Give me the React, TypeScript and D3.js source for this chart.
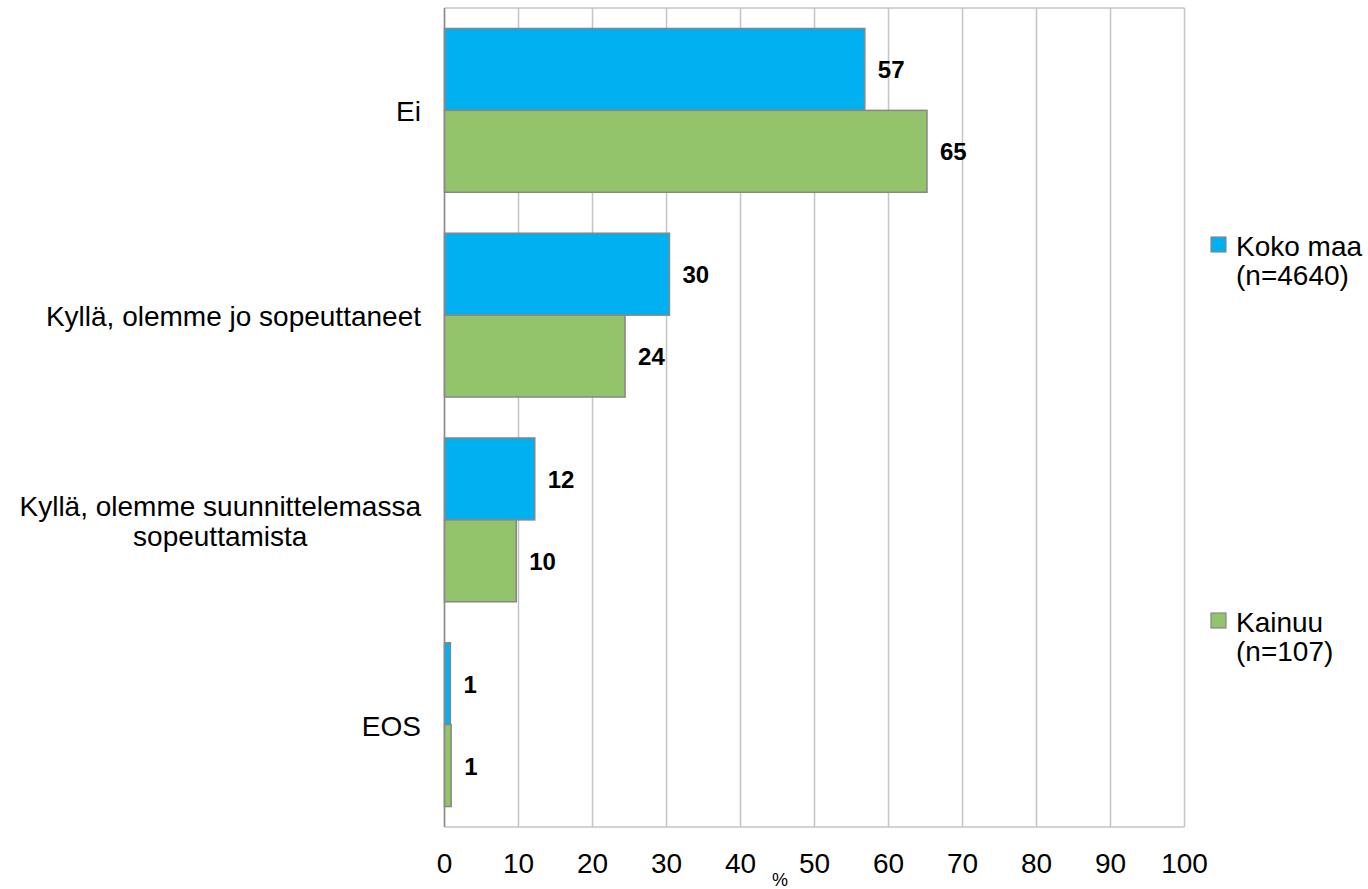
import { useMemo } from "react";
import * as d3 from "d3";

const CATEGORIES = [
  "Ei",
  "Kyllä, olemme jo sopeuttaneet",
  "Kyllä, olemme suunnittelemassa\nsopeuttamista",
  "EOS",
];

const SERIES_NAMES = ["Koko maa", "Kainuu"];
const SERIES_N = ["(n=4640)", "(n=107)"];
const KOKO_MAA = [56.8, 30.4, 12.2, 0.8];
const KAINUU = [65.2, 24.4, 9.7, 0.9];
const X_TICKS = [0, 10, 20, 30, 40, 50, 60, 70, 80, 90, 100];

const COLORS = ["#00b0f0", "#93c36a"];
const FONT = "'Liberation Sans', Arial, sans-serif";

const W = 1368;
const H = 889;
const M = { left: 444.5, right: 1184.5, top: 8, bottom: 827 };

function measure(text: string, font: string) {
  const c = document.createElement("canvas").getContext("2d");
  if (!c) return text.length * 14;
  c.font = font;
  return c.measureText(text).width;
}

export default function App() {
  const values = [KOKO_MAA, KAINUU];

  const x = d3.scaleLinear().domain([0, 100]).range([M.left, M.right]);
  const y = d3
    .scaleBand<number>()
    .domain(CATEGORIES.map((_, i) => i))
    .range([M.top, M.bottom])
    .paddingInner(0.2)
    .paddingOuter(0.1);
  const inner = d3
    .scaleBand<number>()
    .domain(SERIES_NAMES.map((_, i) => i))
    .range([0, y.bandwidth()]);

  const labelWidths = useMemo(
    () =>
      CATEGORIES.map((c) =>
        Math.max(...c.split("\n").map((l) => measure(l, `28px ${FONT}`)))
      ),
    []
  );

  const labelRight = 421;
  const lineH = 30;
  const fmt = d3.format(".0f");

  return (
    <svg
      width={W}
      height={H}
      style={{ position: "absolute", left: 0, top: 0, background: "#fff" }}
      fontFamily={FONT}
    >
      {/* vertical grid */}
      {X_TICKS.map((t) => (
        <line
          key={t}
          x1={x(t)}
          x2={x(t)}
          y1={M.top}
          y2={M.bottom}
          stroke="#c4c4c4"
          strokeWidth={1.5}
        />
      ))}
      <line x1={M.left} x2={M.right} y1={M.top} y2={M.top} stroke="#c4c4c4" strokeWidth={1.5} />
      <line x1={M.left} x2={M.right} y1={M.bottom} y2={M.bottom} stroke="#c4c4c4" strokeWidth={1.5} />

      {/* bars */}
      {values.map((vals, s) =>
        vals.map((v, i) => {
          const by = (y(i) ?? 0) + (inner(s) ?? 0);
          const bh = inner.bandwidth();
          return (
            <g key={`${s}-${i}`}>
              <rect
                x={x(0)}
                y={by}
                width={x(v) - x(0)}
                height={bh}
                fill={COLORS[s]}
                stroke="#878787"
                strokeWidth={1.5}
              />
              <text
                x={x(v) + 13}
                y={by + bh / 2 + 9}
                fontSize={24}
                fontWeight="bold"
                fill="#000"
              >
                {fmt(v)}
              </text>
            </g>
          );
        })
      )}

      <line x1={M.left} x2={M.left} y1={M.top} y2={M.bottom} stroke="#8a8a8a" strokeWidth={1.5} />

      {/* category labels */}
      {CATEGORIES.map((c, i) => {
        const lines = c.split("\n");
        const cy = (y(i) ?? 0) + y.bandwidth() / 2;
        const cx = labelRight - labelWidths[i] / 2;
        return (
          <text key={c} fontSize={28} fill="#000" textAnchor="middle">
            {lines.map((l, k) => (
              <tspan key={k} x={cx} y={cy + 11 + (k - (lines.length - 1) / 2) * lineH}>
                {l}
              </tspan>
            ))}
          </text>
        );
      })}

      {/* x ticks */}
      {X_TICKS.map((t) => (
        <text key={t} x={x(t)} y={873} fontSize={28} textAnchor="middle" fill="#000">
          {t}
        </text>
      ))}
      <text x={780} y={886} fontSize={18} textAnchor="middle" fill="#000">
        %
      </text>

      {/* legend */}
      {SERIES_NAMES.map((name, s) => {
        const ly = s === 0 ? 237 : 613;
        return (
          <g key={name}>
            <rect x={1211} y={ly} width={15} height={15} fill={COLORS[s]} stroke="#878787" strokeWidth={1.2} />
            <text x={1236} y={ly + 19} fontSize={28} fill="#000">
              {name}
            </text>
            <text x={1236} y={ly + 48} fontSize={28} fill="#000">
              {SERIES_N[s]}
            </text>
          </g>
        );
      })}
    </svg>
  );
}
